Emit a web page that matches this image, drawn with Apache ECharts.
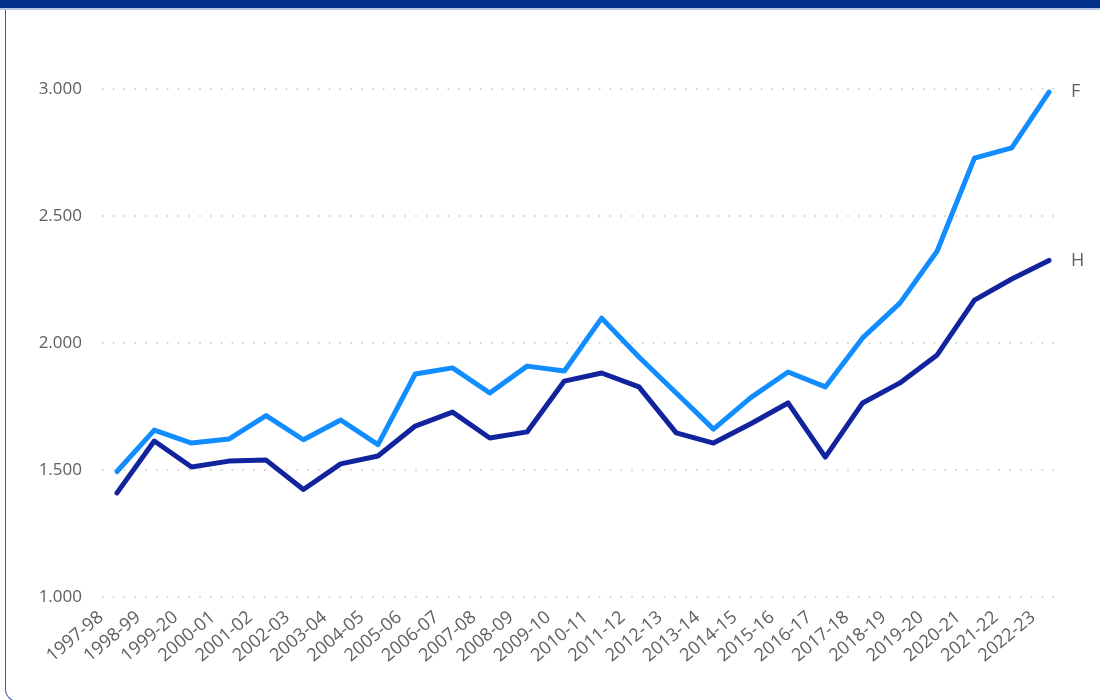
<!DOCTYPE html>
<html>
<head>
<meta charset="utf-8">
<script src="https://cdn.jsdelivr.net/npm/echarts@6/dist/echarts.min.js"></script>
<style>
  html, body { margin: 0; padding: 0; background: #ffffff; }
  #wrap { position: relative; width: 1100px; height: 700px; overflow: hidden; background: #ffffff; }
  #card { position: absolute; left: 5px; top: 0; width: 1200px; height: 702px;
          border-left: 1.5px solid #3d5caa; border-bottom: 1.5px solid #3d5caa;
          border-bottom-left-radius: 13px; box-sizing: border-box; }
  #topbar { position: absolute; left: 0; top: 0; width: 1100px; height: 8px; background: #00308a; }
  #topline { position: absolute; left: 0; top: 8px; width: 1100px; height: 2px; background: #b9c6e3; }
  #chart { position: absolute; left: 0; top: 0; width: 1100px; height: 700px; }
</style>
</head>
<body>
<div id="wrap">
  <div id="card"></div>
  <div id="topbar"></div>
  <div id="topline"></div>
  <div id="chart"></div>
</div>
<script>
const categories = ['1997-98','1998-99','1999-20','2000-01','2001-02','2002-03','2003-04','2004-05','2005-06','2006-07','2007-08','2008-09','2009-10','2010-11','2011-12','2012-13','2013-14','2014-15','2015-16','2016-17','2017-18','2018-19','2019-20','2020-21','2021-22','2022-23'];
const seriesF = [1494,1657,1606,1622,1714,1619,1697,1600,1878,1902,1803,1909,1890,2098,1945,1803,1661,1785,1886,1827,2020,2157,2362,2728,2768,2988];
const seriesH = [1410,1614,1512,1535,1539,1423,1524,1555,1673,1728,1626,1650,1850,1882,1827,1646,1606,1682,1764,1551,1764,1843,1953,2169,2252,2325];
const yTicks = [1000, 1500, 2000, 2500, 3000];
const seriesNames = ['F', 'H'];

const pairs = arr => arr.map((v, i) => [i, v]);
const fmt = v => String(v).replace(/\B(?=(\d{3})+(?!\d))/g, '.');

const chart = echarts.init(document.getElementById('chart'), null, { renderer: 'canvas' });
const labelColor = '#605e5c';
const fontFam = '"Open Sans", "DejaVu Sans", sans-serif';

chart.setOption({
  animation: false,
  grid: [
    { left: 102, right: 41, top: 89, bottom: 103 },
    { left: 101, right: 67, top: 89, bottom: 103 }
  ],
  xAxis: [
    { type: 'value', gridIndex: 0, min: -0.402, max: 25.268, show: false },
    { type: 'category', gridIndex: 1, data: categories, boundaryGap: false,
      axisLine: { show: false }, axisTick: { show: false }, splitLine: { show: false },
      axisLabel: { rotate: 40, interval: 0, margin: 18, color: labelColor, fontSize: 18, fontFamily: fontFam } }
  ],
  yAxis: [
    { type: 'value', gridIndex: 0, min: yTicks[0], max: yTicks[yTicks.length - 1], interval: yTicks[1] - yTicks[0],
      axisLine: { show: false }, axisTick: { show: false },
      axisLabel: { margin: 20, color: labelColor, fontSize: 17, fontFamily: fontFam, formatter: fmt },
      splitLine: { show: true, lineStyle: { color: '#c8c6c4', width: 1.6, type: [1.6, 9.2] } } },
    { type: 'value', gridIndex: 1, min: yTicks[0], max: yTicks[yTicks.length - 1], show: false }
  ],
  series: [
    { name: seriesNames[1], type: 'line', xAxisIndex: 0, yAxisIndex: 0, data: pairs(seriesH),
      symbol: 'none', lineStyle: { color: '#12239e', width: 5, join: 'round', cap: 'round' },
      endLabel: { show: true, formatter: '{a}', distance: 22, color: labelColor, fontSize: 18, fontFamily: fontFam } },
    { name: seriesNames[0], type: 'line', xAxisIndex: 0, yAxisIndex: 0, data: pairs(seriesF),
      symbol: 'none', lineStyle: { color: '#118dff', width: 5, join: 'round', cap: 'round' },
      endLabel: { show: true, formatter: '{a}', distance: 22, color: labelColor, fontSize: 18, fontFamily: fontFam } }
  ]
});
</script>
</body>
</html>
